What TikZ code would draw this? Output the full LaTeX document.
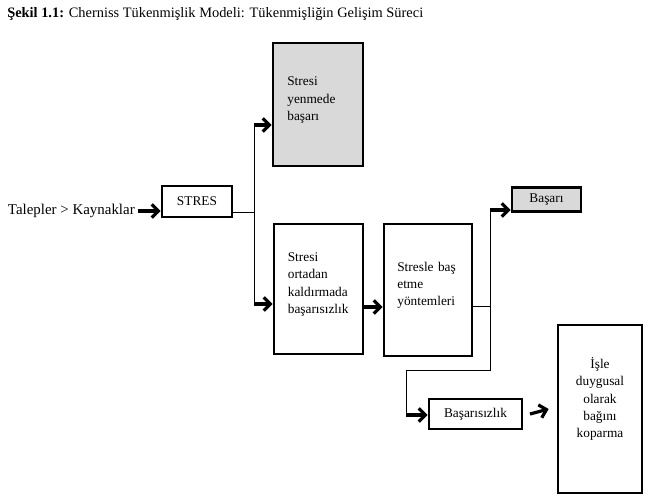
\documentclass[tikz,border=0pt]{standalone}
\usepackage{fontspec}
\setmainfont{Liberation Serif}
\usetikzlibrary{arrows.meta,positioning}
\tikzset{
  box/.style={draw,line width=2pt,inner xsep=9pt,font=\fontsize{10}{13}\selectfont},
  graybox/.style={box,fill=gray!30},
  leftbox/.style={box,align=left,text width=46pt,text height=0pt},
  link/.style={line width=0.7pt},
  arr/.style={line width=2.4pt,-{Straight Barb[length=5pt,width=10pt]}}
}
\begin{document}
\begin{tikzpicture}[x=0.75pt,y=-0.75pt]
  \useasboundingbox (0,0) rectangle (651,503);
  \node[anchor=base west,font=\fontsize{10.8}{13}\selectfont,inner sep=0pt] (title) at (7,18)
    {\textbf{Şekil 1.1:} Cherniss Tükenmişlik Modeli: Tükenmişliğin Gelişim Süreci};

  \node[anchor=east,font=\fontsize{11.2}{13}\selectfont,inner sep=0pt] (talep) at (135,211) {Talepler > Kaynaklar};
  \node[box,minimum width=52.5pt,minimum height=23.25pt] (stres) at (197,201.5) {STRES};
  \node[graybox,leftbox,minimum width=67.5pt,minimum height=92.25pt] (yenme) at (318,104.5)
    {Stresi\\yenmede\\başarı};
  \node[box,leftbox,minimum width=66.75pt,minimum height=97.5pt] (kaldir) at (318.5,289)
    {Stresi\\ortadan\\kaldırmada\\başarısızlık};
  \node[box,leftbox,minimum width=66pt,minimum height=99pt] (basetme) at (428,290)
    {Stresle baş\\etme\\yöntemleri};
  \node[graybox,minimum width=51.75pt,minimum height=18pt] (basari) at (546.5,199.5) {Başarı};
  \node[box,align=center,text depth=17pt,minimum width=63pt,minimum height=126pt] (kopar) at (600,409)
    {İşle\\duygusal\\olarak\\bağını\\koparma};

  \node[box,minimum width=69.75pt,minimum height=22.5pt] (basarisiz) at (475.5,414) {Başarısızlık};

  \coordinate (s1) at (254,212);
  \coordinate (s2) at (490,306);
  \coordinate (s3) at (406,370);

  \draw[arr] ([xshift=2pt]talep.east) -- (talep.east -| stres.west);
  \draw[link] (s1 -| stres.east) -- (s1);
  \draw[link] (254,125) -- (254,304);
  \draw[arr] (254,125) -- (254,125 -| yenme.west);
  \draw[arr] (254,304) -- (254,304 -| kaldir.west);
  \draw[arr] (kaldir.east |- 0,307) -- (basetme.west |- 0,307);
  \draw[link] (s2 -| basetme.east) -- (s2);
  \draw[link] (490,210) -- (490,370) -- (s3) -- (406,415);
  \draw[arr] (490,210) -- (490,210 -| basari.west);
  \draw[arr] (406,415) -- (406,415 -| basarisiz.west);
  \draw[arr] ([xshift=5pt]basarisiz.east) -- ([xshift=-6pt]kopar.west);
\end{tikzpicture}
\end{document}
